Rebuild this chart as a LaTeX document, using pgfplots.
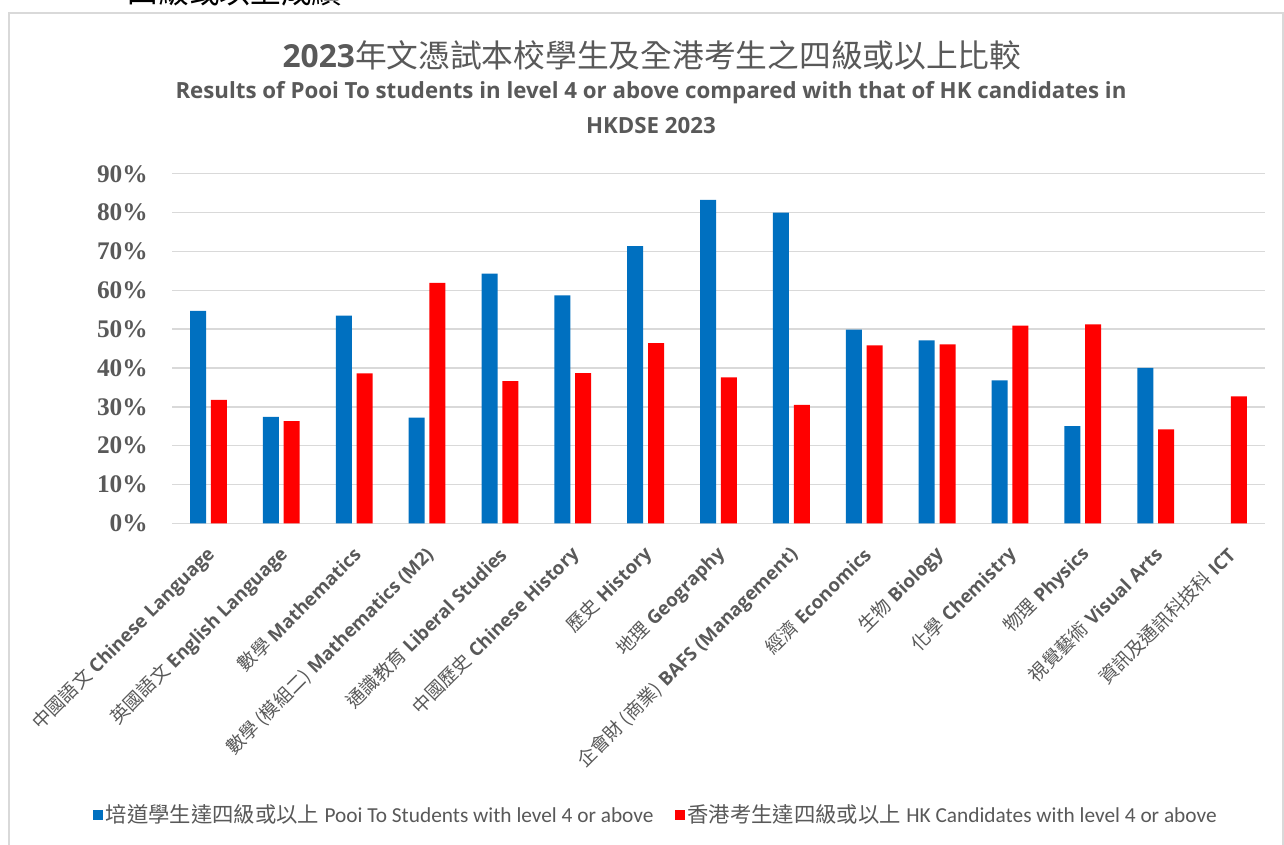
\documentclass[border=0pt]{standalone}
\usepackage{fontspec}
\usepackage{pgfplots}
\pgfplotsset{compat=1.18}
\setmainfont{Open Sans}
\newfontfamily\cjk{Noto Sans CJK TC}
\newfontfamily\tnr{Liberation Serif}
\newfontfamily\carlito{Carlito}
\definecolor{bluebar}{RGB}{0,112,192}
\definecolor{redbar}{RGB}{255,0,0}
\definecolor{txt}{RGB}{89,89,89}
\definecolor{gridc}{RGB}{217,217,217}
\newcommand{\lab}[2]{{\cjk #1} \textbf{#2}}
\begin{document}
\begin{tikzpicture}[x=0.75pt,y=0.75pt]
\useasboundingbox (0,0) rectangle (1284,844);
\clip (0,0) rectangle (1284,844);
\fill[white] (0,0) rectangle (1284,844);
\draw[gridc, line width=1.5pt] (8.5,-10) rectangle (1282.5,830.5);
\node[font=\cjk\fontsize{23}{23}\selectfont, text=black] at (235,852) {四級或以上成績};
\node[font=\fontsize{23.8}{24}\selectfont, text=txt] at (652,789) {\textbf{2023}{\cjk 年文憑試本校學生及全港考生之四級或以上比較}};
\node[font=\bfseries\fontsize{16.7}{17}\selectfont, text=txt] at (651,751) {Results of Pooi To students in level 4 or above compared with that of HK candidates in};
\node[font=\bfseries\fontsize{16.7}{17}\selectfont, text=txt] at (651,718) {HKDSE 2023};
\begin{axis}[
  at={(129pt,240.5pt)}, anchor=south west,
  scale only axis, width=819.75pt, height=262.2pt,
  ybar=3.6pt, bar width=12pt,
  xmin=-0.5, xmax=14.5, ymin=0, ymax=90,
  enlargelimits=false,
  axis line style={draw=none}, tick style={draw=none},
  ymajorgrids, grid style={gridc, line width=1.1pt},
  ytick={0,10,20,30,40,50,60,70,80,90},
  yticklabels={0\%,10\%,20\%,30\%,40\%,50\%,60\%,70\%,80\%,90\%},
  yticklabel style={font=\tnr\bfseries\fontsize{19}{19}\selectfont, text=txt, anchor=east, inner sep=0pt, xshift=-18pt},
  xtick={0,...,14},
  xticklabels={\lab{中國語文}{Chinese Language}, \lab{英國語文}{English Language}, \lab{數學}{Mathematics}, \lab{數學 (模組二)}{Mathematics (M2)}, \lab{通識教育}{Liberal Studies}, \lab{中國歷史}{Chinese History}, \lab{歷史}{History}, \lab{地理}{Geography}, \lab{企會財 (商業)}{BAFS (Management)}, \lab{經濟}{Economics}, \lab{生物}{Biology}, \lab{化學}{Chemistry}, \lab{物理}{Physics}, \lab{視覺藝術}{Visual Arts}, \lab{資訊及通訊科技科}{ICT}},
  xticklabel style={font=\fontsize{14}{14}\selectfont, text=txt, rotate=45, anchor=east, inner sep=0pt, xshift=-10pt, yshift=-13.5pt},
  legend style={at={(0.443,-0.834)}, anchor=center, draw=none, fill=none, legend columns=2, font=\fontsize{16}{16}\selectfont, text=txt, /tikz/every even column/.append style={column sep=14pt}},
  legend image code/.code={\fill[#1] (0pt,-3.75pt) rectangle (7.5pt,3.75pt);},
]
\addplot[fill=bluebar, draw=none] coordinates {
(0,54.7) (1,27.4) (2,53.5) (3,27.2) (4,64.3) (5,58.7) (6,71.4) (7,83.3) (8,80.0) (9,49.9) (10,47.1) (11,36.8) (12,25.0) (13,40.0)};
\addlegendentry{{\cjk 培道學生達四級或以上} {\carlito Pooi To Students with level 4 or above}}
\addplot[fill=redbar, draw=none] coordinates {
(0,31.8) (1,26.3) (2,38.6) (3,61.9) (4,36.6) (5,38.7) (6,46.4) (7,37.6) (8,30.5) (9,45.8) (10,46.1) (11,50.9) (12,51.2) (13,24.2) (14,32.7)};
\addlegendentry{{\cjk 香港考生達四級或以上} {\carlito HK Candidates with level 4 or above}}
\end{axis}
\end{tikzpicture}
\end{document}
